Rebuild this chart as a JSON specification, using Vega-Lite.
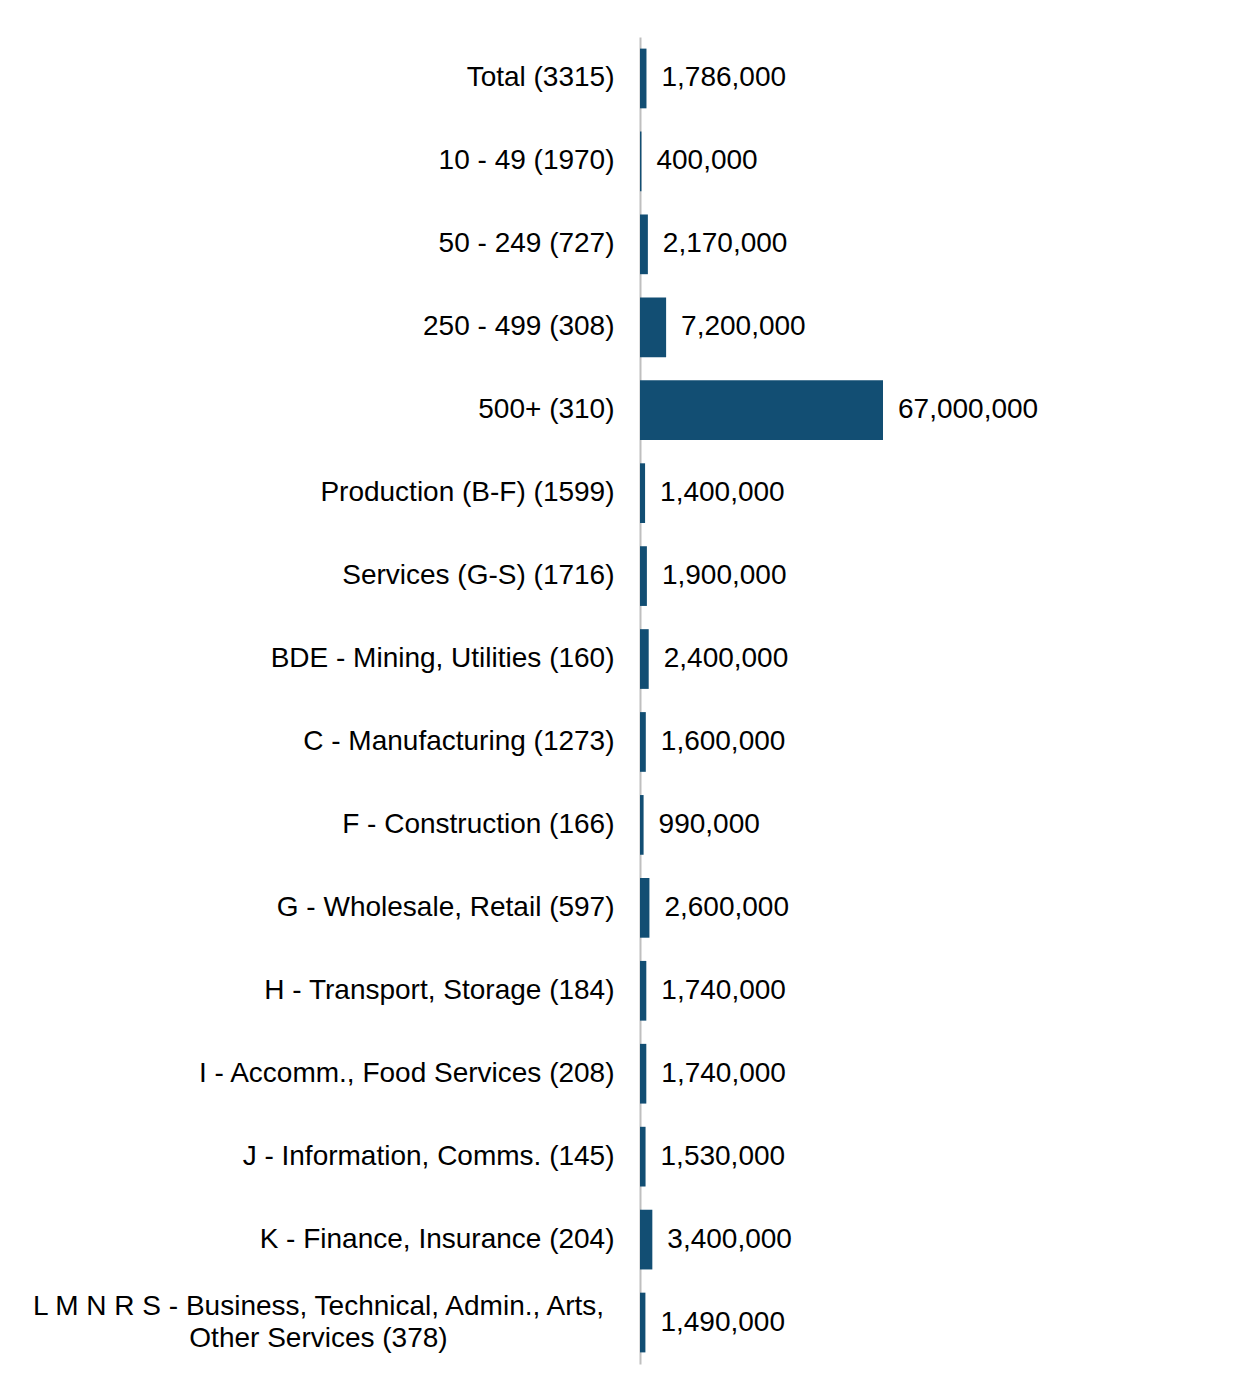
{
  "$schema": "https://vega.github.io/schema/vega-lite/v6.json",
  "autosize": {"type": "none"},
  "padding": {"left": 640, "top": 37, "right": 365, "bottom": 23},
  "width": 243,
  "height": 1327,
  "background": "white",
  "config": {"view": {"stroke": null}},
  "data": {
    "values": [
      {"category": "Total (3315)", "value": 1786000},
      {"category": "10 - 49 (1970)", "value": 400000},
      {"category": "50 - 249 (727)", "value": 2170000},
      {"category": "250 - 499 (308)", "value": 7200000},
      {"category": "500+ (310)", "value": 67000000},
      {"category": "Production (B-F) (1599)", "value": 1400000},
      {"category": "Services (G-S) (1716)", "value": 1900000},
      {"category": "BDE - Mining, Utilities (160)", "value": 2400000},
      {"category": "C - Manufacturing (1273)", "value": 1600000},
      {"category": "F - Construction (166)", "value": 990000},
      {"category": "G - Wholesale, Retail (597)", "value": 2600000},
      {"category": "H - Transport, Storage (184)", "value": 1740000},
      {"category": "I - Accomm., Food Services (208)", "value": 1740000},
      {"category": "J - Information, Comms. (145)", "value": 1530000},
      {"category": "K - Finance, Insurance (204)", "value": 3400000},
      {"category": "L M N R S - Business, Technical, Admin., Arts,|Other Services (378)", "value": 1490000}
    ]
  },
  "encoding": {
    "y": {
      "field": "category",
      "type": "nominal",
      "sort": null,
      "scale": {"paddingInner": 0.28, "paddingOuter": 0.14},
      "axis": {
        "title": null,
        "ticks": false,
        "tickSize": 0,
        "domainColor": "#bfbfbf",
        "domainWidth": 2,
        "labelFont": "Liberation Sans",
        "labelFontSize": 28,
        "labelColor": "#000000",
        "labelLimit": 1000,
        "labelLineHeight": 32,
        "labelExpr": "split(datum.label, '|')",
        "labelAlign": {"condition": {"test": "indexof(datum.value, '|') >= 0", "value": "center"}, "value": "right"},
        "labelPadding": {"condition": {"test": "indexof(datum.value, '|') >= 0", "value": 322}, "value": 26},
        "labelOffset": {"condition": {"test": "indexof(datum.value, '|') >= 0", "value": -16}, "value": 0}
      }
    },
    "x": {
      "field": "value",
      "type": "quantitative",
      "scale": {"domain": [0, 67000000], "nice": false, "zero": true},
      "axis": null
    }
  },
  "layer": [
    {"mark": {"type": "bar", "color": "#124e73"}},
    {
      "mark": {"type": "text", "align": "left", "baseline": "middle", "dx": 15, "font": "Liberation Sans", "fontSize": 28, "color": "#000000"},
      "encoding": {"text": {"field": "value", "type": "quantitative", "format": ",.0f"}}
    }
  ]
}
